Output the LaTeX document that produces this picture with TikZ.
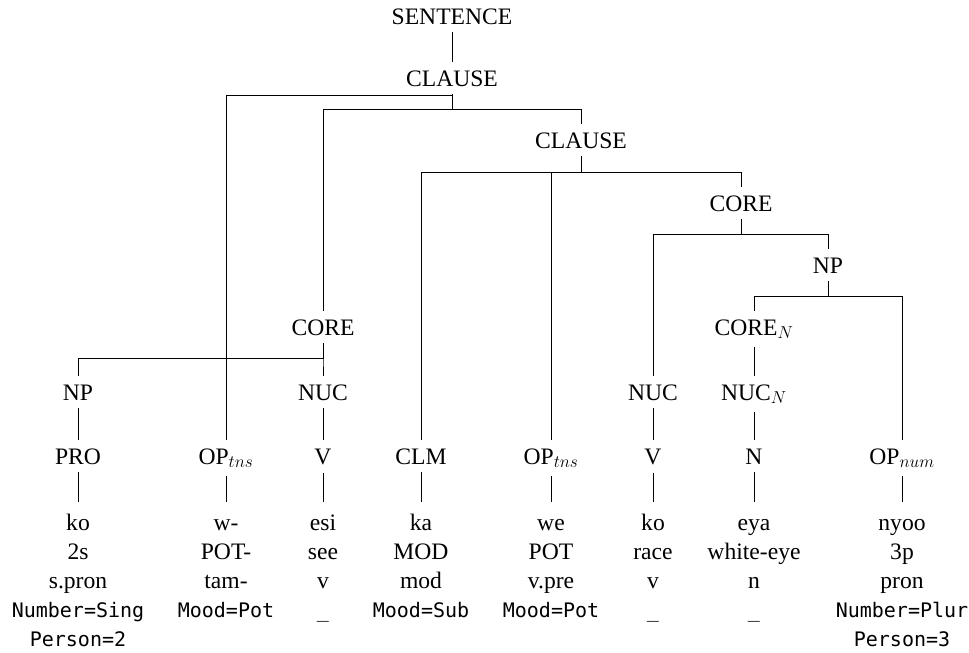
\documentclass[tikz,border=0pt]{standalone}
\usepackage{fontspec}
\setmainfont{Liberation Serif}
\setmonofont{DejaVu Sans Mono}
\newcommand{\feat}[1]{{\ttfamily\fontsize{20}{29}\selectfont #1}}
\tikzset{
  tag/.style={inner sep=8pt, anchor=base},
  word/.style={inner sep=8pt, anchor=base},
  link/.style={line width=0.9pt}
}
\begin{document}
\begin{tikzpicture}[x=1pt, y=-1pt, every node/.style={font=\fontsize{23.6}{29}\selectfont}]
\useasboundingbox (0,0) rectangle (969,653);

% upper part of the tree
\node[tag] (sent) at (452,24) {SENTENCE};
\node[tag] (cl1) at (452,86) {CLAUSE};
\node[tag] (cl2) at (581,148) {CLAUSE};
\node[tag] (core2) at (741,211) {CORE};
\node[tag] (np2) at (828,273) {NP};
\node[tag] (core1) at (323,335) {CORE};
\node[tag] (coren) at (754,335) {CORE$_N$};

\node[tag] (np1) at (78,400) {NP};
\node[tag] (nuc1) at (323,400) {NUC};
\node[tag] (nuc2) at (653,400) {NUC};
\node[tag] (nucn) at (754,400) {NUC$_N$};

\node[tag] (pro) at (78,464) {PRO};
\node[tag] (op1) at (226,464) {OP$_{tns}$};
\node[tag] (v1) at (323,464) {V};
\node[tag] (clm) at (421,464) {CLM};
\node[tag] (op2) at (551,464) {OP$_{tns}$};
\node[tag] (v2) at (653,464) {V};
\node[tag] (n) at (754,464) {N};
\node[tag] (opnum) at (902,464) {OP$_{num}$};

% words
\node[word] (w1) at (78,530) {\begin{tabular}[t]{@{}c@{}}ko\\2s\\s.pron\\\feat{Number=Sing}\\\feat{Person=2}\end{tabular}};
\node[word] (w2) at (226,530) {\begin{tabular}[t]{@{}c@{}}w-\\POT-\\tam-\\\feat{Mood=Pot}\end{tabular}};
\node[word] (w3) at (323,530) {\begin{tabular}[t]{@{}c@{}}esi\\see\\v\\\feat{\_}\end{tabular}};
\node[word] (w4) at (421,530) {\begin{tabular}[t]{@{}c@{}}ka\\MOD\\mod\\\feat{Mood=Sub}\end{tabular}};
\node[word] (w5) at (551,530) {\begin{tabular}[t]{@{}c@{}}we\\POT\\v.pre\\\feat{Mood=Pot}\end{tabular}};
\node[word] (w6) at (653,530) {\begin{tabular}[t]{@{}c@{}}ko\\race\\v\\\feat{\_}\end{tabular}};
\node[word] (w7) at (754,530) {\begin{tabular}[t]{@{}c@{}}eya\\white-eye\\n\\\feat{\_}\end{tabular}};
\node[word] (w8) at (902,530) {\begin{tabular}[t]{@{}c@{}}nyoo\\3p\\pron\\\feat{Number=Plur}\\\feat{Person=3}\end{tabular}};

% bar heights
\coordinate (b1) at (0,95);
\coordinate (b2) at (0,109);
\coordinate (b3) at (0,172);
\coordinate (b4) at (0,234);
\coordinate (b5) at (0,296);
\coordinate (b6) at (0,358);

\draw[link] (sent.south) -- (cl1.north);
\draw[link] (cl1.south) -- (cl1.south |- b1) -| (op1.north);
\draw[link] (cl1.south) -- (cl1.south |- b2) -| (core1.north);
\draw[link] (cl1.south) -- (cl1.south |- b2) -| (cl2.north);

\draw[link] (cl2.south) -- (cl2.south |- b3) -| (clm.north);
\draw[link] (cl2.south) -- (cl2.south |- b3) -| (op2.north);
\draw[link] (cl2.south) -- (cl2.south |- b3) -| (core2.north);

\draw[link] (core2.south) -- (core2.south |- b4) -| (nuc2.north);
\draw[link] (core2.south) -- (core2.south |- b4) -| (np2.north);

\draw[link] (np2.south) -- (np2.south |- b5) -| (coren.north);
\draw[link] (np2.south) -- (np2.south |- b5) -| (opnum.north);

\draw[link] (core1.south) -- (core1.south |- b6) -| (np1.north);
\draw[link] (core1.south) -- (core1.south |- b6) -| (nuc1.north);

\draw[link] (coren.south) -- (nucn.north);
\draw[link] (nucn.south) -- (n.north);
\draw[link] (np1.south) -- (pro.north);
\draw[link] (nuc1.south) -- (v1.north);
\draw[link] (nuc2.south) -- (v2.north);

\draw[link] (pro.south) -- (w1.north);
\draw[link] (op1.south) -- (w2.north);
\draw[link] (v1.south) -- (w3.north);
\draw[link] (clm.south) -- (w4.north);
\draw[link] (op2.south) -- (w5.north);
\draw[link] (v2.south) -- (w6.north);
\draw[link] (n.south) -- (w7.north);
\draw[link] (opnum.south) -- (w8.north);

\end{tikzpicture}
\end{document}
